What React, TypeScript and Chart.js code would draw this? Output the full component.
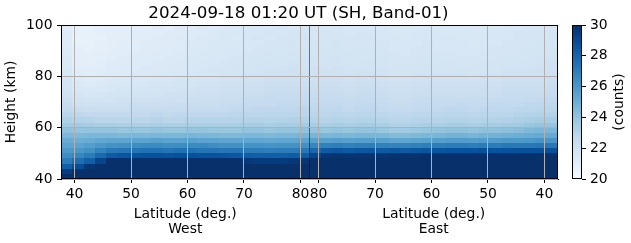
import React, { useEffect, useRef } from "react";
import { Chart, registerables } from "chart.js";

Chart.register(...registerables);

// ---------------- data ----------------
const titleText = "2024-09-18 01:20 UT (SH, Band-01)";
const heightLabel = "Height (km)";
const westAxisTitle = ["Latitude (deg.)", "West"];
const eastAxisTitle = ["Latitude (deg.)", "East"];
const colorbarLabel = "(counts)";

const latMin = 37.6;
const latMax = 81.6; // divider between the two passes
const dividerLat = 81.6;
const heightMin = 40;
const heightMax = 100;
const countMin = 20;
const countMax = 30;
const binWidthDeg = 2;
const binHeightKm = 2;

const westTickLabels = [40, 50, 60, 70, 80];
const eastTickLabels = [80, 70, 60, 50, 40];
const heightTicks = [40, 60, 80, 100];
const colorbarTicks = [20, 22, 24, 26, 28, 30];

// lower edge of each height bin (km)
const heightBinsKm = [40, 42, 44, 46, 48, 50, 52, 54, 56, 58, 60, 62, 64, 66, 68, 70, 72, 74, 76, 78, 80, 82, 84, 86, 88, 90, 92, 94, 96, 98];
// centre latitude of each column, in plotted order
const westLatCenters = [38.6, 40.6, 42.6, 44.6, 46.6, 48.6, 50.6, 52.6, 54.6, 56.6, 58.6, 60.6, 62.6, 64.6, 66.6, 68.6, 70.6, 72.6, 74.6, 76.6, 78.6, 80.6];
const eastLatCenters = [80.6, 78.6, 76.6, 74.6, 72.6, 70.6, 68.6, 66.6, 64.6, 62.6, 60.6, 58.6, 56.6, 54.6, 52.6, 50.6, 48.6, 46.6, 44.6, 42.6, 40.6, 38.6];

// counts, one row per height bin (bottom to top), one value per column
const westCounts = [
  [30.6,31,31,31,31,31,31,31,31,31,31,31,31,31,31,31,31,31,31,31,31,31],
  [29.6,30.3,31,31,31,31,31,31,31,31,31,31,31,31,31,31,31,31,31,31,31,31],
  [28.2,28.9,29.8,30.6,31,31,31,31,31,31,31,31,31,31,31,31,31,31,31,31,31,31],
  [27.1,27.6,28.2,29.2,30.0,30.2,30.4,30.4,30.5,30.4,30.4,30.5,30.4,30.4,30.3,30.2,29.7,29.6,29.6,29.6,29.7,29.8],
  [26.4,26.7,27.1,27.8,28.4,28.6,28.7,28.8,28.8,28.7,28.8,28.8,28.7,28.7,28.6,28.5,28.3,28.2,28.2,28.2,28.3,28.3],
  [25.9,26.0,26.3,26.8,27.2,27.3,27.4,27.5,27.5,27.4,27.5,27.5,27.4,27.4,27.3,27.3,27.1,27.1,27.0,27.1,27.1,27.2],
  [25.5,25.5,25.7,26.0,26.2,26.3,26.4,26.5,26.5,26.4,26.4,26.5,26.5,26.4,26.3,26.3,26.2,26.2,26.1,26.2,26.2,26.3],
  [25.1,25.0,25.1,25.3,25.4,25.4,25.5,25.5,25.6,25.5,25.5,25.6,25.5,25.5,25.4,25.4,25.4,25.4,25.3,25.4,25.4,25.5],
  [24.6,24.5,24.6,24.6,24.6,24.5,24.6,24.6,24.6,24.6,24.6,24.7,24.6,24.6,24.5,24.5,24.6,24.6,24.5,24.6,24.6,24.7],
  [24.1,24.0,24.0,24.0,24.0,23.9,23.9,23.9,24.0,23.9,23.9,24.0,24.0,23.9,23.9,23.9,24.0,24.0,23.9,24.0,24.0,24.1],
  [23.7,23.6,23.5,23.4,23.4,23.3,23.3,23.3,23.4,23.3,23.3,23.4,23.4,23.4,23.4,23.4,23.5,23.5,23.4,23.5,23.5,23.6],
  [23.3,23.1,23.0,22.9,22.9,22.9,22.9,22.9,23.0,22.9,22.9,23.0,23.0,23.0,23.0,23.0,23.1,23.1,23.1,23.1,23.2,23.2],
  [22.9,22.7,22.6,22.6,22.6,22.6,22.6,22.6,22.7,22.6,22.7,22.7,22.7,22.7,22.7,22.8,22.8,22.8,22.9,22.9,22.9,22.9],
  [22.6,22.4,22.3,22.3,22.3,22.3,22.4,22.4,22.4,22.4,22.4,22.5,22.5,22.5,22.5,22.6,22.6,22.7,22.7,22.7,22.7,22.8],
  [22.4,22.1,22.0,22.1,22.1,22.1,22.2,22.2,22.2,22.2,22.3,22.3,22.3,22.3,22.4,22.4,22.5,22.5,22.5,22.6,22.6,22.6],
  [22.2,21.9,21.8,21.9,21.9,22.0,22.0,22.0,22.1,22.1,22.1,22.2,22.2,22.2,22.3,22.3,22.4,22.4,22.5,22.5,22.5,22.5],
  [22.0,21.7,21.6,21.7,21.8,21.8,21.8,21.9,21.9,22.0,22.0,22.0,22.1,22.1,22.2,22.2,22.3,22.3,22.4,22.4,22.4,22.4],
  [21.9,21.5,21.5,21.5,21.6,21.7,21.7,21.7,21.8,21.8,21.9,21.9,22.0,22.0,22.1,22.1,22.2,22.2,22.3,22.3,22.3,22.3],
  [21.8,21.4,21.3,21.4,21.5,21.5,21.6,21.6,21.7,21.7,21.8,21.8,21.9,21.9,22.0,22.0,22.1,22.1,22.2,22.2,22.2,22.2],
  [21.7,21.3,21.2,21.3,21.4,21.4,21.5,21.5,21.6,21.6,21.7,21.7,21.8,21.8,21.9,21.9,22.0,22.0,22.1,22.1,22.1,22.1],
  [21.6,21.2,21.1,21.2,21.3,21.3,21.4,21.4,21.5,21.5,21.6,21.6,21.7,21.7,21.8,21.8,21.9,21.9,22.0,22.0,22.0,22.0],
  [21.5,21.1,21.1,21.1,21.2,21.3,21.3,21.4,21.4,21.5,21.5,21.6,21.6,21.7,21.7,21.8,21.8,21.9,21.9,21.9,22.0,21.9],
  [21.4,21.0,21.0,21.1,21.2,21.2,21.3,21.3,21.4,21.4,21.5,21.5,21.6,21.6,21.7,21.7,21.8,21.8,21.9,21.8,21.9,21.9],
  [21.4,21.0,20.9,21.0,21.1,21.2,21.2,21.3,21.3,21.4,21.4,21.5,21.5,21.6,21.6,21.7,21.7,21.8,21.8,21.8,21.8,21.9],
  [21.3,20.9,20.9,21.0,21.1,21.1,21.2,21.2,21.3,21.3,21.4,21.4,21.5,21.5,21.6,21.6,21.7,21.7,21.8,21.7,21.8,21.8],
  [21.3,20.9,20.8,20.9,21.0,21.1,21.1,21.2,21.2,21.3,21.3,21.4,21.4,21.5,21.5,21.6,21.6,21.7,21.7,21.7,21.7,21.8],
  [21.2,20.8,20.8,20.9,21.0,21.1,21.1,21.2,21.2,21.2,21.3,21.4,21.4,21.5,21.5,21.5,21.6,21.6,21.7,21.7,21.8,21.7],
  [21.2,20.7,20.8,20.8,21.0,21.0,21.0,21.1,21.2,21.2,21.3,21.3,21.4,21.4,21.5,21.4,21.6,21.7,21.6,21.7,21.7,21.8],
  [21.2,20.8,20.8,20.9,20.9,21.0,21.1,21.1,21.1,21.2,21.2,21.3,21.3,21.4,21.5,21.5,21.6,21.6,21.7,21.6,21.7,21.7],
  [21.1,20.8,20.7,20.9,21.0,21.0,21.1,21.0,21.2,21.1,21.3,21.2,21.4,21.3,21.4,21.5,21.5,21.6,21.6,21.7,21.6,21.7],
];

const eastCounts = [
  [31,31,31,31,31,31,31,31,31,31,31,31,31,31,31,31,31,31,31,31,31,31],
  [31,31,31,31,31,31,31,31,31,31,31,31,31,31,31,31,31,31,31,31,31,31],
  [31,31,31,31,31,31,31,31,31,31,31,31,31,31,31,31,31,31,31,31,31,31],
  [30.5,31,31,31,31,31,31,31,31,31,31,31,31,31,31,31,31,31,31,31,31,31],
  [29.2,29.8,29.9,29.8,29.9,29.9,29.8,29.9,29.9,29.9,30.0,30.0,30.2,30.2,30.2,30.3,30.2,30.2,30.3,30.2,30.3,30.3],
  [27.9,28.4,28.5,28.4,28.5,28.5,28.4,28.5,28.4,28.5,28.6,28.6,28.7,28.7,28.7,28.8,28.7,28.7,28.8,28.8,28.8,28.8],
  [26.7,26.9,27.0,26.9,27.0,27.0,26.9,26.8,26.8,26.9,27.0,27.0,27.1,27.1,27.0,27.1,27.1,27.2,27.2,27.2,27.3,27.3],
  [25.6,25.6,25.7,25.6,25.7,25.7,25.6,25.4,25.4,25.5,25.6,25.7,25.8,25.8,25.7,25.8,25.8,25.9,25.9,26.0,26.1,26.1],
  [24.7,24.6,24.7,24.6,24.7,24.7,24.6,24.4,24.4,24.5,24.6,24.7,24.8,24.8,24.7,24.8,24.8,24.9,25.0,25.1,25.2,25.2],
  [24.0,23.9,24.0,23.9,24.0,24.0,23.9,23.7,23.7,23.8,23.9,24.0,24.1,24.1,24.0,24.1,24.1,24.2,24.3,24.5,24.6,24.6],
  [23.5,23.4,23.5,23.4,23.5,23.5,23.4,23.2,23.2,23.3,23.4,23.4,23.5,23.5,23.4,23.5,23.5,23.6,23.7,23.9,24.0,24.0],
  [23.1,23.0,23.1,23.0,23.1,23.1,23.0,22.9,22.9,23.0,23.0,23.0,23.1,23.1,23.0,23.1,23.1,23.2,23.3,23.4,23.5,23.5],
  [22.9,22.8,22.9,22.8,22.9,22.9,22.8,22.7,22.7,22.8,22.8,22.8,22.9,22.9,22.8,22.9,22.9,22.9,23.0,23.1,23.1,23.1],
  [22.7,22.7,22.7,22.6,22.7,22.7,22.6,22.5,22.5,22.6,22.6,22.6,22.7,22.7,22.6,22.7,22.7,22.7,22.8,22.8,22.9,22.9],
  [22.6,22.6,22.6,22.5,22.6,22.6,22.5,22.4,22.4,22.5,22.5,22.5,22.5,22.6,22.5,22.5,22.6,22.6,22.6,22.7,22.7,22.7],
  [22.5,22.5,22.5,22.4,22.5,22.5,22.4,22.3,22.3,22.4,22.4,22.4,22.4,22.4,22.4,22.4,22.4,22.5,22.5,22.5,22.6,22.6],
  [22.4,22.4,22.4,22.3,22.4,22.4,22.3,22.2,22.2,22.3,22.3,22.3,22.3,22.3,22.3,22.3,22.3,22.4,22.4,22.4,22.4,22.5],
  [22.3,22.3,22.3,22.2,22.3,22.3,22.2,22.1,22.1,22.2,22.2,22.2,22.2,22.2,22.2,22.2,22.2,22.3,22.3,22.3,22.3,22.4],
  [22.2,22.2,22.2,22.1,22.2,22.2,22.1,22.0,22.0,22.1,22.1,22.1,22.1,22.1,22.1,22.1,22.1,22.2,22.2,22.2,22.2,22.3],
  [22.1,22.1,22.1,22.0,22.1,22.1,22.0,21.9,21.9,22.0,22.0,22.0,22.0,22.0,21.9,22.0,22.0,22.1,22.1,22.1,22.1,22.2],
  [22.0,22.0,22.0,21.9,22.0,22.0,21.9,21.8,21.8,21.9,21.9,21.9,21.9,21.9,21.8,21.9,21.9,22.0,22.0,22.0,22.0,22.1],
  [22.0,21.9,22.0,21.9,21.9,21.9,21.9,21.8,21.8,21.8,21.9,21.8,21.8,21.8,21.8,21.8,21.8,21.9,21.9,21.9,22.0,22.0],
  [21.9,21.9,21.9,21.8,21.9,21.9,21.8,21.7,21.7,21.8,21.8,21.8,21.8,21.7,21.7,21.8,21.8,21.8,21.9,21.9,21.9,22.0],
  [21.9,21.8,21.9,21.8,21.8,21.8,21.8,21.7,21.7,21.7,21.8,21.7,21.7,21.7,21.7,21.7,21.7,21.8,21.8,21.8,21.9,21.9],
  [21.8,21.8,21.8,21.8,21.8,21.8,21.7,21.7,21.6,21.7,21.7,21.7,21.7,21.6,21.6,21.7,21.7,21.7,21.8,21.8,21.8,21.9],
  [21.8,21.8,21.8,21.7,21.8,21.7,21.7,21.6,21.6,21.7,21.7,21.6,21.6,21.6,21.6,21.6,21.7,21.7,21.7,21.8,21.8,21.8],
  [21.8,21.7,21.8,21.7,21.7,21.7,21.7,21.6,21.6,21.6,21.7,21.6,21.6,21.6,21.5,21.6,21.6,21.7,21.7,21.7,21.8,21.8],
  [21.7,21.7,21.7,21.7,21.7,21.7,21.6,21.6,21.5,21.6,21.6,21.6,21.6,21.5,21.5,21.6,21.6,21.6,21.7,21.7,21.7,21.8],
  [21.7,21.7,21.7,21.6,21.7,21.6,21.6,21.5,21.5,21.6,21.6,21.5,21.5,21.5,21.5,21.5,21.6,21.6,21.7,21.7,21.7,21.7],
  [21.7,21.6,21.7,21.6,21.6,21.6,21.6,21.5,21.5,21.5,21.6,21.5,21.5,21.5,21.4,21.5,21.5,21.6,21.6,21.7,21.7,21.7],
];

// ---------------- styling helpers ----------------
const FONT = "'DejaVu Sans', 'Liberation Sans', sans-serif";
const BASE_SIZE = 13.9;
const TITLE_SIZE = 16.7;
const BLUES = [
  [247, 251, 255], [222, 235, 247], [198, 219, 239], [158, 202, 225],
  [107, 174, 214], [66, 146, 198], [33, 113, 181], [8, 81, 156], [8, 48, 107],
];
function blues(t: number): string {
  const c = Math.max(0, Math.min(1, t));
  const s = c * (BLUES.length - 1);
  const i = Math.min(BLUES.length - 2, Math.floor(s));
  const f = s - i;
  const a = BLUES[i];
  const b = BLUES[i + 1];
  const r = Math.round(a[0] + (b[0] - a[0]) * f);
  const g = Math.round(a[1] + (b[1] - a[1]) * f);
  const bl = Math.round(a[2] + (b[2] - a[2]) * f);
  return `rgb(${r},${g},${bl})`;
}
const norm = (v: number) => (v - countMin) / (countMax - countMin);

const heatmapPlugin = {
  id: "heatmap",
  beforeDatasetsDraw(chart: any) {
    const { ctx, chartArea, scales } = chart;
    const yS = scales.y;
    ctx.save();
    ctx.beginPath();
    ctx.rect(chartArea.left, chartArea.top, chartArea.width, chartArea.height);
    ctx.clip();
    const drawSide = (xS: any, lats: number[], rows: number[][]) => {
      rows.forEach((row, j) => {
        const h0 = heightBinsKm[j];
        const yTop = Math.round(yS.getPixelForValue(h0 + binHeightKm));
        const yBot = Math.round(yS.getPixelForValue(h0));
        row.forEach((v, i) => {
          const xa = Math.round(xS.getPixelForValue(lats[i] - binWidthDeg / 2));
          const xb = Math.round(xS.getPixelForValue(lats[i] + binWidthDeg / 2));
          ctx.fillStyle = blues(norm(v));
          ctx.fillRect(Math.min(xa, xb), yTop, Math.abs(xb - xa), yBot - yTop);
        });
      });
    };
    drawSide(scales.xW, westLatCenters, westCounts);
    drawSide(scales.xE, eastLatCenters, eastCounts);
    ctx.restore();
  },
};

const decorPlugin = {
  id: "decor",
  afterDraw(chart: any) {
    const { ctx, chartArea, scales } = chart;
    const cb = scales.cb;
    ctx.save();
    // colour bar
    const barRight = cb.left;
    const barLeft = barRight - 10;
    const top = Math.round(cb.getPixelForValue(countMax));
    const bottom = Math.round(cb.getPixelForValue(countMin));
    for (let py = top; py < bottom; py++) {
      const v = cb.getValueForPixel(py + 0.5);
      ctx.fillStyle = blues(norm(v));
      ctx.fillRect(barLeft, py, barRight - barLeft, 1);
    }
    ctx.strokeStyle = "#000";
    ctx.lineWidth = 1;
    ctx.strokeRect(barLeft + 0.5, top + 0.5, barRight - barLeft - 1, bottom - top - 1);
    // plot frame
    ctx.strokeRect(chartArea.left + 0.5, chartArea.top + 0.5, chartArea.width - 1, chartArea.height - 1);
    // title
    ctx.fillStyle = "#000";
    ctx.font = `${TITLE_SIZE}px ${FONT}`;
    ctx.textAlign = "center";
    ctx.textBaseline = "alphabetic";
    ctx.fillText(titleText, (chartArea.left + chartArea.right) / 2 - 11, 18);
    // colour bar label
    ctx.font = `${BASE_SIZE}px ${FONT}`;
    ctx.translate(cb.right - 12, (top + bottom) / 2);
    ctx.rotate(-Math.PI / 2);
    ctx.textBaseline = "middle";
    ctx.fillText(colorbarLabel, 0, 0);
    ctx.restore();
  },
};

const tickFont = { family: FONT, size: BASE_SIZE };
const axisTitleFont = { family: FONT, size: BASE_SIZE, lineHeight: "15.5px" };
const GRID = "#b0b0b0";

function latAxis(ticksList: number[], title: string[], reverse: boolean) {
  return {
    type: "linear",
    position: "bottom",
    stack: "lat",
    stackWeight: 1,
    weight: 0,
    reverse,
    min: latMin,
    max: latMax,
    afterBuildTicks: (s: any) => {
      s.ticks = ticksList.map((v) => ({ value: v }));
    },
    afterFit: (s: any) => {
      s.height = 64;
    },
    ticks: {
      autoSkip: false,
      maxRotation: 0,
      minRotation: 0,
      padding: 3.5,
      color: "#000",
      font: tickFont,
      callback: (v: any) => String(v),
    },
    grid: { z: 1, color: GRID, lineWidth: 1, tickColor: "#000", tickLength: 4, drawTicks: true },
    border: { z: 1, display: true, color: "#000", width: 1 },
    title: {
      display: true,
      text: title,
      color: "#000",
      font: axisTitleFont,
      padding: { top: 0, bottom: 5.5 },
    },
  };
}

export default function App() {
  const canvasRef = useRef<HTMLCanvasElement | null>(null);

  useEffect(() => {
    const canvas = canvasRef.current;
    if (!canvas) return;
    const chart = new Chart(canvas, {
      type: "line",
      data: {
        datasets: [
          {
            data: [
              { x: dividerLat, y: heightMin },
              { x: dividerLat, y: heightMax },
            ],
            xAxisID: "xW",
            yAxisID: "y",
            borderColor: "#000",
            borderWidth: 1,
            pointRadius: 0,
            fill: false,
          },
        ],
      },
      options: {
        animation: false,
        responsive: false,
        events: [],
        layout: { padding: { top: 25, left: 0, right: 0, bottom: 0 } },
        plugins: {
          legend: { display: false },
          tooltip: { enabled: false },
          title: { display: false },
        },
        scales: {
          xW: latAxis(westTickLabels, westAxisTitle, false),
          xE: latAxis(eastTickLabels, eastAxisTitle, true),
          y: {
            type: "linear",
            position: "left",
            min: heightMin,
            max: heightMax,
            afterBuildTicks: (s: any) => {
              s.ticks = heightTicks.map((v) => ({ value: v }));
            },
            afterFit: (s: any) => {
              s.width = 61;
            },
            ticks: { padding: 4.5, color: "#000", font: tickFont },
            grid: { z: 1, color: GRID, lineWidth: 1, tickColor: "#000", tickLength: 4 },
            border: { z: 1, display: true, color: "#000", width: 1 },
            title: {
              display: true,
              text: heightLabel,
              color: "#000",
              font: { family: FONT, size: BASE_SIZE, lineHeight: 1.2 },
              padding: { top: 2.7, bottom: 0 },
            },
          },
          sp: {
            type: "linear",
            position: "right",
            weight: 0,
            afterFit: (s: any) => {
              s.width = 24;
            },
            ticks: { display: false },
            grid: { display: false },
            border: { display: false },
          },
          cb: {
            type: "linear",
            position: "right",
            weight: 1,
            min: countMin,
            max: countMax,
            afterBuildTicks: (s: any) => {
              s.ticks = colorbarTicks.map((v) => ({ value: v }));
            },
            afterFit: (s: any) => {
              s.width = 49;
            },
            ticks: { padding: 4, color: "#000", font: tickFont },
            grid: { display: true, drawOnChartArea: false, tickColor: "#000", tickLength: 4 },
            border: { display: false },
          },
        },
      } as any,
      plugins: [heatmapPlugin, decorPlugin],
    } as any);
    return () => chart.destroy();
  }, []);

  return (
    <div style={{ position: "absolute", left: 0, top: 0, width: 631, height: 243, background: "#fff" }}>
      <canvas ref={canvasRef} width={631} height={243} style={{ display: "block" }} />
    </div>
  );
}
